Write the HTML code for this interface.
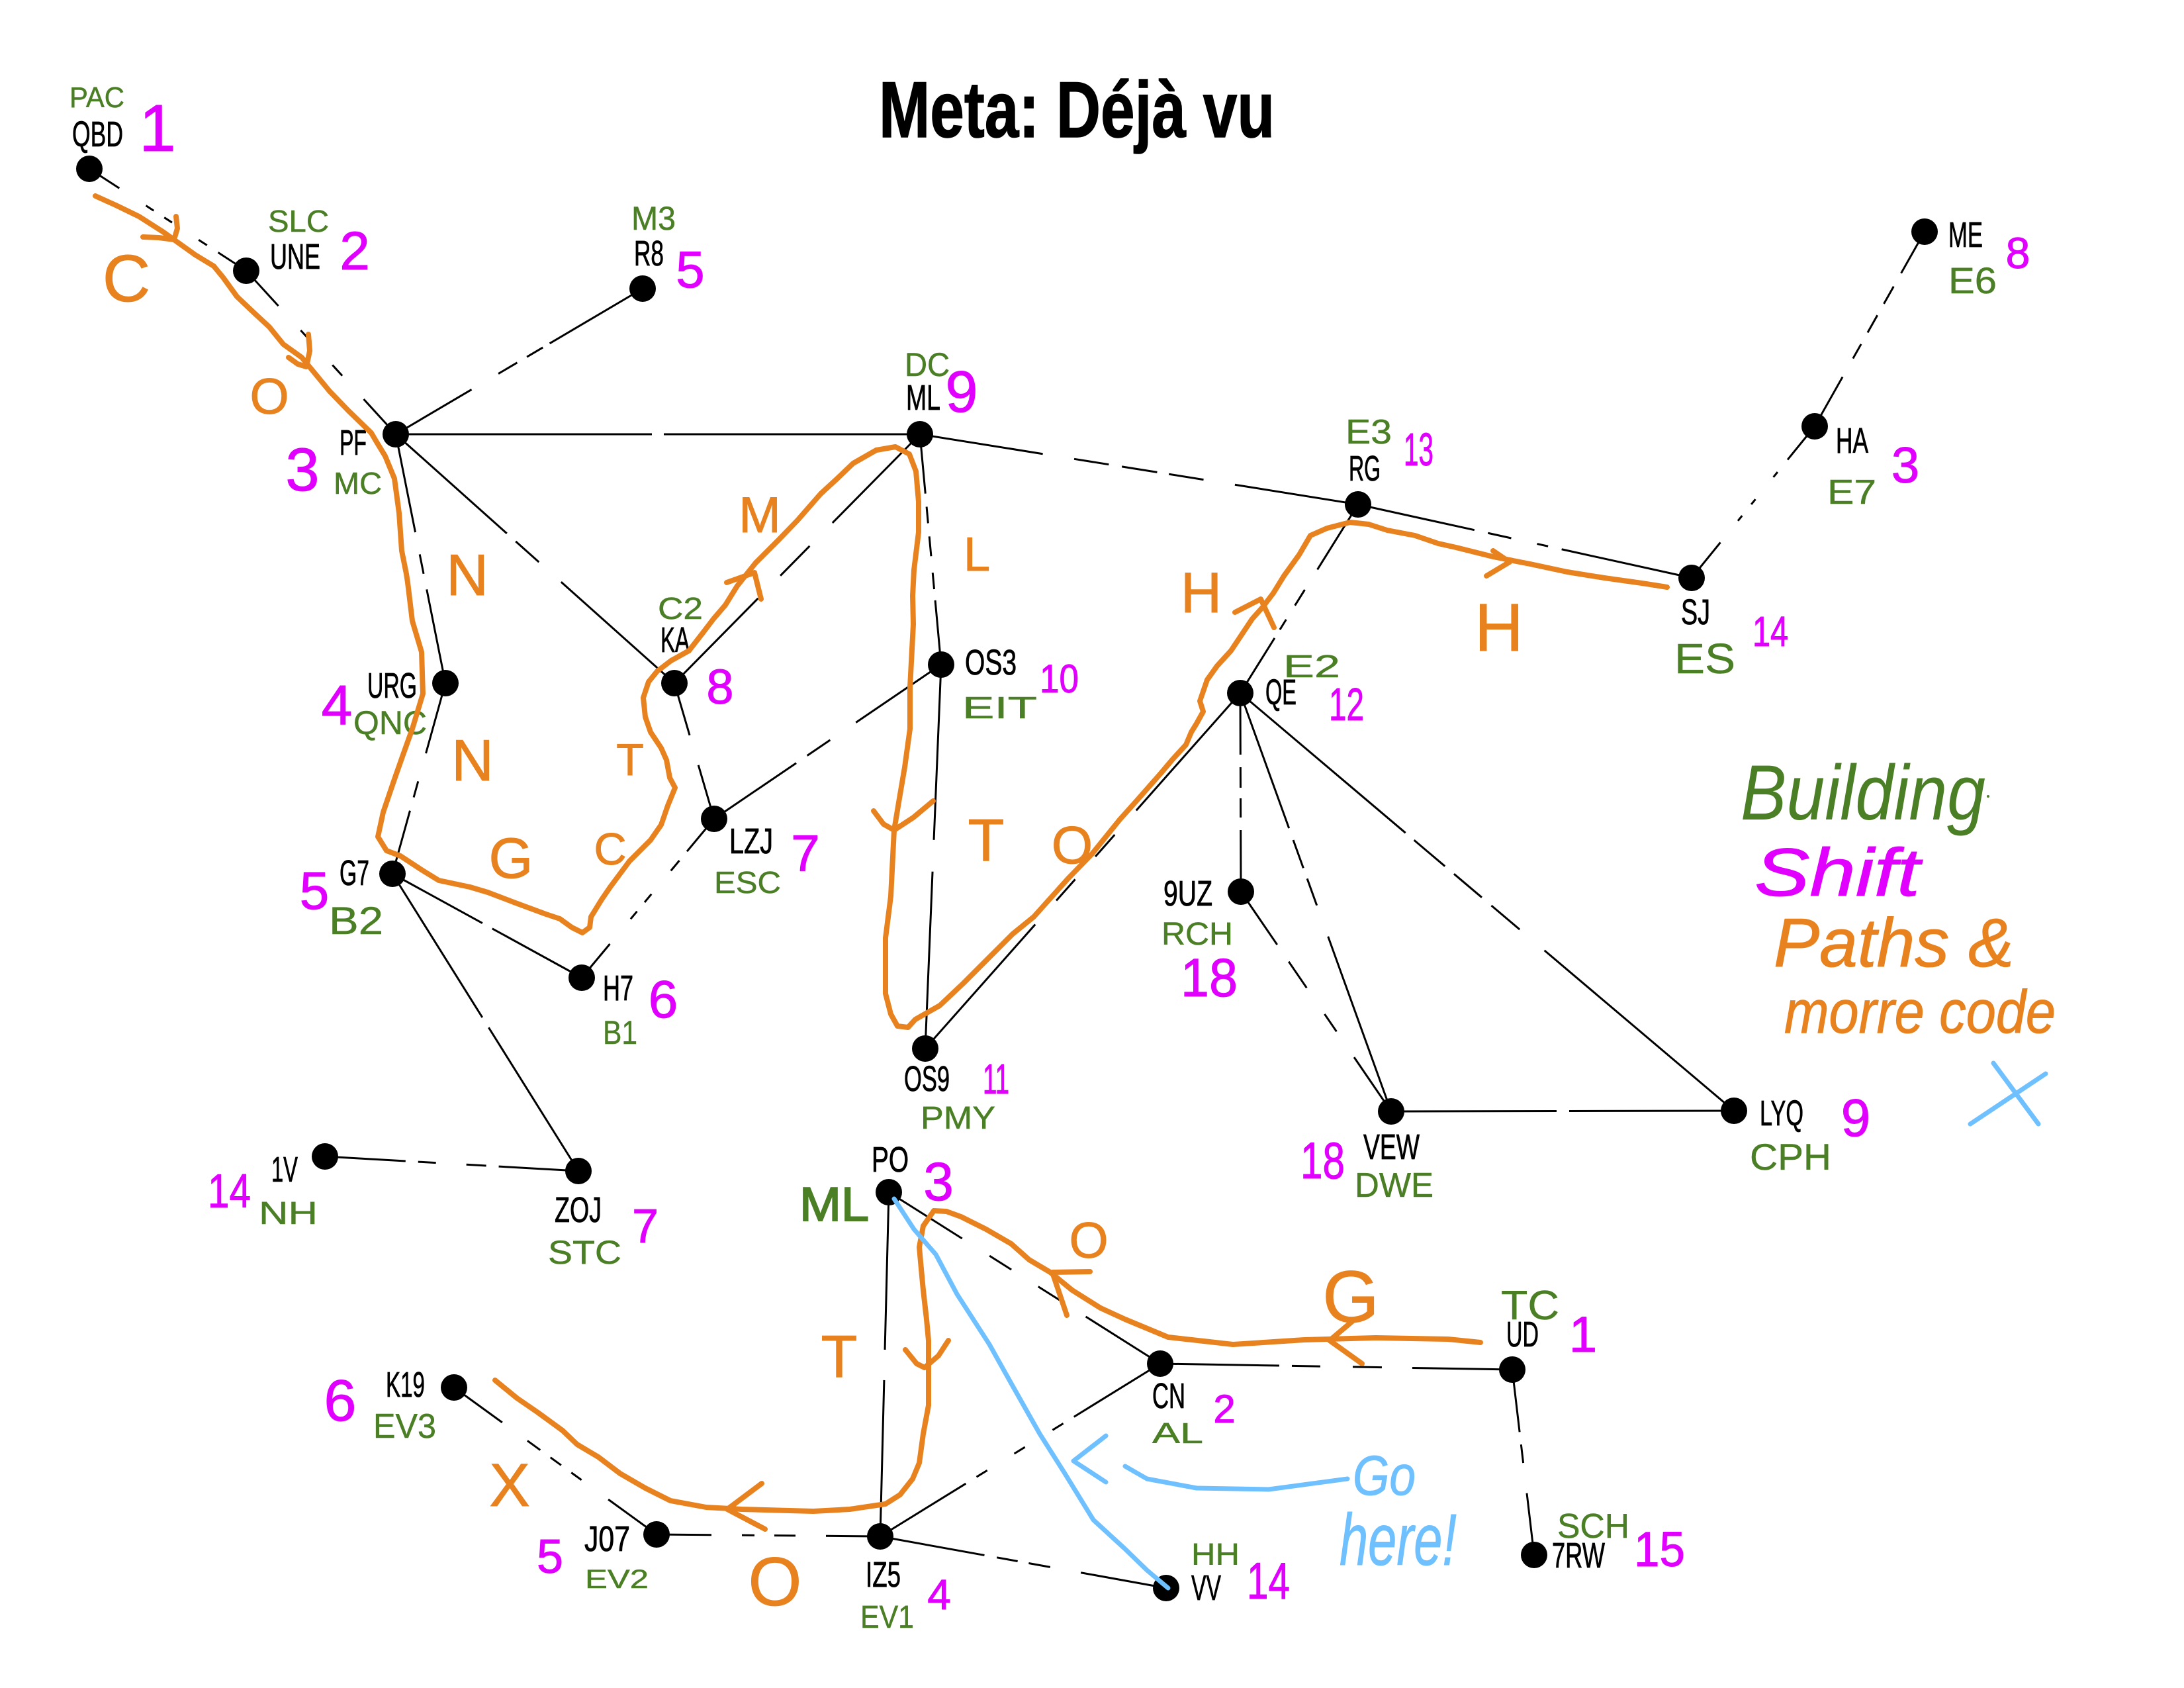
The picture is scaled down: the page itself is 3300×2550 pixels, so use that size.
<!DOCTYPE html>
<html>
<head>
<meta charset="utf-8">
<style>
html,body{margin:0;padding:0;background:#fff;}
svg{display:block;}
.lbl{font-family:"Liberation Sans Narrow","Liberation Sans",sans-serif;font-size:54px;fill:#000;stroke:#000;stroke-width:0.8;}
.ttl{font-family:"Liberation Sans Narrow","Liberation Sans",sans-serif;font-size:120px;font-weight:bold;fill:#000;stroke:#000;stroke-width:1.5;}
.g{font-family:"Liberation Sans",sans-serif;fill:#4b7f25;stroke:#4b7f25;stroke-width:0.5;}
.m{font-family:"Liberation Sans",sans-serif;fill:#e100ff;stroke:#e100ff;stroke-width:1;}
.o{font-family:"Liberation Sans",sans-serif;fill:#e8821e;stroke:#e8821e;stroke-width:1;}
.b{font-family:"Liberation Sans",sans-serif;fill:#6ec0ff;stroke:#6ec0ff;stroke-width:1;}
</style>
</head>
<body>
<svg width="3300" height="2550" viewBox="0 0 3300 2550" xmlns="http://www.w3.org/2000/svg">
<rect x="0" y="0" width="3300" height="2550" fill="#fff"/>

<!-- Title -->
<text class="ttl" x="1328" y="207" textLength="598" lengthAdjust="spacingAndGlyphs">Meta: Déjà vu</text>

<!-- Edges -->
<g stroke="#000" stroke-width="3" fill="none">
<line x1="135" y1="255" x2="372" y2="409" stroke-dasharray="54 48 14 19 14 48 15 20 100"/>
<line x1="372" y1="409" x2="598" y2="656" stroke-dasharray="72 50 23 48 22 48 100"/>
<line x1="598" y1="656" x2="971" y2="436" stroke-dasharray="133 47 33 17 28 12 200"/>
<line x1="598" y1="656" x2="1390" y2="656" stroke-dasharray="387 18 400"/>
<line x1="598" y1="656" x2="1019" y2="1032" stroke-dasharray="225 18 47 45 300"/>
<line x1="598" y1="656" x2="673" y2="1032" stroke-dasharray="151 34 30 24 200"/>
<line x1="673" y1="1032" x2="593" y2="1320" stroke-dasharray="110 44 25 21 150"/>
<line x1="593" y1="1320" x2="879" y2="1477" stroke-dasharray="155 17 200"/>
<line x1="593" y1="1320" x2="874" y2="1769" stroke-dasharray="256 18 300"/>
<line x1="491" y1="1747" x2="874" y2="1769" stroke-dasharray="122 19 27 46 30 19 200"/>
<line x1="1019" y1="1032" x2="1390" y2="656" stroke-dasharray="180 48 63 49 250"/>
<line x1="1019" y1="1032" x2="1079" y2="1237" stroke-dasharray="82 47 120"/>
<line x1="1079" y1="1237" x2="879" y2="1477" stroke-dasharray="64 18 20 46 16 18 15 49 100"/>
<line x1="1079" y1="1237" x2="1422" y2="1004" stroke-dasharray="150 20 42 47 200"/>
<line x1="1390" y1="656" x2="1422" y2="1004" stroke-dasharray="90 20 25 20 30 25 25 17 150"/>
<line x1="1390" y1="656" x2="2052" y2="762" stroke-dasharray="188 48 53 20 54 18 53 48 250"/>
<line x1="2052" y1="762" x2="2556" y2="873" stroke-dasharray="180 21 36 40 17 21 250"/>
<line x1="1874" y1="1047" x2="2052" y2="762" stroke-dasharray="98 15 18 25 28 36 200"/>
<line x1="2908" y1="350" x2="2742" y2="644" stroke-dasharray="72 23 30 20 30 20 25 32 150"/>
<line x1="2742" y1="644" x2="2556" y2="873" stroke-dasharray="65 24 10 43 10 22 10 42 150"/>
<line x1="1874" y1="1047" x2="1398" y2="1584" stroke-dasharray="237 49 44 46 43 48 300"/>
<line x1="1874" y1="1047" x2="1875" y2="1347" stroke-dasharray="93 19 31 16 29 19 150"/>
<line x1="1874" y1="1047" x2="2102" y2="1679" stroke-dasharray="217 19 45 17 43 50 350"/>
<line x1="1874" y1="1047" x2="2620" y2="1678" stroke-dasharray="327 17 61 18 55 19 56 49 450"/>
<line x1="1875" y1="1347" x2="2102" y2="1679" stroke-dasharray="97 31 48 48 32 47 150"/>
<line x1="2102" y1="1679" x2="2620" y2="1678" stroke-dasharray="250 19 300"/>
<line x1="1422" y1="1004" x2="1398" y2="1584" stroke-dasharray="265 48 300"/>
<line x1="686" y1="2096" x2="992" y2="2318" stroke-dasharray="90 47 24 19 20 19 19 50 150"/>
<line x1="992" y1="2318" x2="1330" y2="2321" stroke-dasharray="83 46 19 30 32 46 120"/>
<line x1="1343" y1="1801" x2="1330" y2="2321" stroke-dasharray="238 46 300"/>
<line x1="1343" y1="1801" x2="1753" y2="2060" stroke-dasharray="131 49 39 48 38 47 200"/>
<line x1="1330" y1="2321" x2="1753" y2="2060" stroke-dasharray="152 19 19 48 19 49 19 19 200"/>
<line x1="1330" y1="2321" x2="1762" y2="2399" stroke-dasharray="160 19 32 17 33 47 200"/>
<line x1="1753" y1="2060" x2="2285" y2="2069" stroke-dasharray="180 19 43 49 44 46 200"/>
<line x1="2285" y1="2069" x2="2318" y2="2349" stroke-dasharray="95 19 28 46 150"/>
</g>

<!-- Nodes -->
<g fill="#000">
<circle cx="135" cy="255" r="20"/>
<circle cx="372" cy="409" r="20"/>
<circle cx="598" cy="656" r="20"/>
<circle cx="971" cy="436" r="20"/>
<circle cx="1390" cy="656" r="20"/>
<circle cx="2052" cy="762" r="20"/>
<circle cx="2908" cy="350" r="20"/>
<circle cx="2742" cy="644" r="20"/>
<circle cx="2556" cy="873" r="20"/>
<circle cx="673" cy="1032" r="20"/>
<circle cx="593" cy="1320" r="20"/>
<circle cx="1019" cy="1032" r="20"/>
<circle cx="1079" cy="1237" r="20"/>
<circle cx="1422" cy="1004" r="20"/>
<circle cx="879" cy="1477" r="20"/>
<circle cx="1398" cy="1584" r="20"/>
<circle cx="1874" cy="1047" r="20"/>
<circle cx="1875" cy="1347" r="20"/>
<circle cx="2102" cy="1679" r="20"/>
<circle cx="2620" cy="1678" r="20"/>
<circle cx="491" cy="1747" r="20"/>
<circle cx="874" cy="1769" r="20"/>
<circle cx="686" cy="2096" r="20"/>
<circle cx="1343" cy="1801" r="20"/>
<circle cx="992" cy="2318" r="20"/>
<circle cx="1330" cy="2321" r="20"/>
<circle cx="1753" cy="2060" r="20"/>
<circle cx="2285" cy="2069" r="20"/>
<circle cx="2318" cy="2349" r="20"/>
<circle cx="1762" cy="2399" r="20"/>
</g>

<!-- Node labels -->
<g>
<text class="lbl" x="109" y="221" textLength="77" lengthAdjust="spacingAndGlyphs">QBD</text>
<text class="lbl" x="408" y="406" textLength="76" lengthAdjust="spacingAndGlyphs">UNE</text>
<text class="lbl" x="958" y="401" textLength="45" lengthAdjust="spacingAndGlyphs">R8</text>
<text class="lbl" x="513" y="687" textLength="41" lengthAdjust="spacingAndGlyphs">PF</text>
<text class="lbl" x="1369" y="619" textLength="52" lengthAdjust="spacingAndGlyphs">ML</text>
<text class="lbl" x="2038" y="726" textLength="48" lengthAdjust="spacingAndGlyphs">RG</text>
<text class="lbl" x="2944" y="373" textLength="52" lengthAdjust="spacingAndGlyphs">ME</text>
<text class="lbl" x="2774" y="684" textLength="49" lengthAdjust="spacingAndGlyphs">HA</text>
<text class="lbl" x="555" y="1054" textLength="75" lengthAdjust="spacingAndGlyphs">URG</text>
<text class="lbl" x="513" y="1337" textLength="45" lengthAdjust="spacingAndGlyphs">G7</text>
<text class="lbl" x="998" y="985" textLength="44" lengthAdjust="spacingAndGlyphs">KA</text>
<text class="lbl" x="1458" y="1019" textLength="78" lengthAdjust="spacingAndGlyphs">OS3</text>
<text class="lbl" x="1102" y="1289" textLength="66" lengthAdjust="spacingAndGlyphs">LZJ</text>
<text class="lbl" x="911" y="1511" textLength="46" lengthAdjust="spacingAndGlyphs">H7</text>
<text class="lbl" x="1366" y="1648" textLength="69" lengthAdjust="spacingAndGlyphs">OS9</text>
<text class="lbl" x="1912" y="1064" textLength="47" lengthAdjust="spacingAndGlyphs">QE</text>
<text class="lbl" x="1758" y="1368" textLength="74" lengthAdjust="spacingAndGlyphs">9UZ</text>
<text class="lbl" x="2540" y="943" textLength="44" lengthAdjust="spacingAndGlyphs">SJ</text>
<text class="lbl" x="2659" y="1700" textLength="66" lengthAdjust="spacingAndGlyphs">LYQ</text>
<text class="lbl" x="410" y="1785" textLength="40" lengthAdjust="spacingAndGlyphs">1V</text>
<text class="lbl" x="583" y="2110" textLength="59" lengthAdjust="spacingAndGlyphs">K19</text>
<text class="lbl" x="838" y="1846" textLength="71" lengthAdjust="spacingAndGlyphs">ZOJ</text>
<text class="lbl" x="1317" y="1770" textLength="56" lengthAdjust="spacingAndGlyphs">PO</text>
<text class="lbl" x="883" y="2343" textLength="69" lengthAdjust="spacingAndGlyphs">J07</text>
<text class="lbl" x="1308" y="2397" textLength="53" lengthAdjust="spacingAndGlyphs">IZ5</text>
<text class="lbl" x="2060" y="1751" textLength="85" lengthAdjust="spacingAndGlyphs">VEW</text>
<text class="lbl" x="1741" y="2127" textLength="50" lengthAdjust="spacingAndGlyphs">CN</text>
<text class="lbl" x="2276" y="2034" textLength="49" lengthAdjust="spacingAndGlyphs">UD</text>
<text class="lbl" x="2345" y="2368" textLength="80" lengthAdjust="spacingAndGlyphs">7RW</text>
<text class="lbl" x="1800" y="2417" textLength="45" lengthAdjust="spacingAndGlyphs">VV</text>
</g>

<!-- Green annotations -->
<g>
<text class="g" x="105" y="162" font-size="44" textLength="83" lengthAdjust="spacingAndGlyphs">PAC</text>
<text class="g" x="405" y="350" font-size="46" textLength="92" lengthAdjust="spacingAndGlyphs">SLC</text>
<text class="g" x="954" y="347" font-size="50" textLength="67" lengthAdjust="spacingAndGlyphs">M3</text>
<text class="g" x="504" y="746" font-size="46" textLength="73" lengthAdjust="spacingAndGlyphs">MC</text>
<text class="g" x="1367" y="568" font-size="50" textLength="68" lengthAdjust="spacingAndGlyphs">DC</text>
<text class="g" x="2033" y="670" font-size="52" textLength="70" lengthAdjust="spacingAndGlyphs">E3</text>
<text class="g" x="2944" y="443" font-size="56" textLength="73" lengthAdjust="spacingAndGlyphs">E6</text>
<text class="g" x="2761" y="761" font-size="52" textLength="74" lengthAdjust="spacingAndGlyphs">E7</text>
<text class="g" x="534" y="1109" font-size="50" textLength="111" lengthAdjust="spacingAndGlyphs">QNC</text>
<text class="g" x="497" y="1411" font-size="58" textLength="82" lengthAdjust="spacingAndGlyphs">B2</text>
<text class="g" x="994" y="935" font-size="46" textLength="68" lengthAdjust="spacingAndGlyphs">C2</text>
<text class="g" x="1454" y="1085" font-size="46" textLength="113" lengthAdjust="spacingAndGlyphs">EIT</text>
<text class="g" x="1079" y="1349" font-size="46" textLength="101" lengthAdjust="spacingAndGlyphs">ESC</text>
<text class="g" x="911" y="1577" font-size="50" textLength="52" lengthAdjust="spacingAndGlyphs">B1</text>
<text class="g" x="1391" y="1705" font-size="48" textLength="113" lengthAdjust="spacingAndGlyphs">PMY</text>
<text class="g" x="1939" y="1023" font-size="48" textLength="86" lengthAdjust="spacingAndGlyphs">E2</text>
<text class="g" x="1755" y="1427" font-size="48" textLength="108" lengthAdjust="spacingAndGlyphs">RCH</text>
<text class="g" x="2530" y="1017" font-size="64" textLength="92" lengthAdjust="spacingAndGlyphs">ES</text>
<text class="g" x="2644" y="1767" font-size="56" textLength="123" lengthAdjust="spacingAndGlyphs">CPH</text>
<text class="g" x="391" y="1849" font-size="48" textLength="89" lengthAdjust="spacingAndGlyphs">NH</text>
<text class="g" x="564" y="2172" font-size="52" textLength="95" lengthAdjust="spacingAndGlyphs">EV3</text>
<text class="g" x="828" y="1909" font-size="50" textLength="111" lengthAdjust="spacingAndGlyphs">STC</text>
<text class="g" x="1208" y="1844" font-size="72" textLength="105" lengthAdjust="spacingAndGlyphs" style="stroke-width:2">ML</text>
<text class="g" x="884" y="2399" font-size="40" textLength="96" lengthAdjust="spacingAndGlyphs">EV2</text>
<text class="g" x="1300" y="2459" font-size="48" textLength="81" lengthAdjust="spacingAndGlyphs">EV1</text>
<text class="g" x="2047" y="1808" font-size="52" textLength="119" lengthAdjust="spacingAndGlyphs">DWE</text>
<text class="g" x="1741" y="2180" font-size="44" textLength="77" lengthAdjust="spacingAndGlyphs">AL</text>
<text class="g" x="2268" y="1993" font-size="62" textLength="88" lengthAdjust="spacingAndGlyphs">TC</text>
<text class="g" x="2353" y="2323" font-size="52" textLength="109" lengthAdjust="spacingAndGlyphs">SCH</text>
<text class="g" x="1800" y="2364" font-size="46" textLength="73" lengthAdjust="spacingAndGlyphs">HH</text>
<text class="g" x="2630" y="1238" font-size="118" textLength="370" lengthAdjust="spacingAndGlyphs" style="stroke-width:0;font-style:italic">Building</text>
<circle cx="3004" cy="1203" r="2" fill="#4b7f25"/>
</g>

<!-- Magenta numbers -->
<g>
<text class="m" x="238" y="228" font-size="100" text-anchor="middle">1</text>
<text class="m" x="536" y="407" font-size="82" text-anchor="middle">2</text>
<text class="m" x="1043" y="434" font-size="78" text-anchor="middle">5</text>
<text class="m" x="457" y="741" font-size="92" text-anchor="middle">3</text>
<text class="m" x="1453" y="622" font-size="88" text-anchor="middle">9</text>
<text class="m" x="2121" y="703" font-size="70" textLength="45" lengthAdjust="spacingAndGlyphs">13</text>
<text class="m" x="3049" y="405" font-size="66" text-anchor="middle">8</text>
<text class="m" x="2879" y="729" font-size="76" text-anchor="middle">3</text>
<text class="m" x="509" y="1094" font-size="84" text-anchor="middle">4</text>
<text class="m" x="475" y="1373" font-size="80" text-anchor="middle">5</text>
<text class="m" x="1088" y="1063" font-size="74" text-anchor="middle">8</text>
<text class="m" x="1571" y="1046" font-size="60" textLength="59" lengthAdjust="spacingAndGlyphs">10</text>
<text class="m" x="1217" y="1316" font-size="78" text-anchor="middle">7</text>
<text class="m" x="1002" y="1537" font-size="80" text-anchor="middle">6</text>
<text class="m" x="1485" y="1652" font-size="64" textLength="40" lengthAdjust="spacingAndGlyphs">11</text>
<text class="m" x="2008" y="1088" font-size="70" textLength="53" lengthAdjust="spacingAndGlyphs">12</text>
<text class="m" x="1784" y="1505" font-size="82" textLength="86" lengthAdjust="spacingAndGlyphs">18</text>
<text class="m" x="2648" y="976" font-size="64" textLength="54" lengthAdjust="spacingAndGlyphs">14</text>
<text class="m" x="2804" y="1716" font-size="80" text-anchor="middle">9</text>
<text class="m" x="314" y="1824" font-size="72" textLength="65" lengthAdjust="spacingAndGlyphs">14</text>
<text class="m" x="514" y="2146" font-size="88" text-anchor="middle">6</text>
<text class="m" x="975" y="1877" font-size="72" text-anchor="middle">7</text>
<text class="m" x="1418" y="1813" font-size="82" text-anchor="middle">3</text>
<text class="m" x="831" y="2376" font-size="72" text-anchor="middle">5</text>
<text class="m" x="1419" y="2431" font-size="64" text-anchor="middle">4</text>
<text class="m" x="1965" y="1780" font-size="78" textLength="67" lengthAdjust="spacingAndGlyphs">18</text>
<text class="m" x="1850" y="2149" font-size="60" text-anchor="middle">2</text>
<text class="m" x="2392" y="2042" font-size="76" text-anchor="middle">1</text>
<text class="m" x="2469" y="2366" font-size="74" textLength="77" lengthAdjust="spacingAndGlyphs">15</text>
<text class="m" x="1884" y="2415" font-size="78" textLength="65" lengthAdjust="spacingAndGlyphs">14</text>
<text class="m" x="2651" y="1353" font-size="102" textLength="250" lengthAdjust="spacingAndGlyphs" style="font-style:italic">Shift</text>
</g>

<!-- Orange path strokes -->
<g fill="none" stroke="#e8821e" stroke-width="8" stroke-linecap="round" stroke-linejoin="round">
<polyline points="144,296 175,310 210,327 246,350 267,365 295,385 323,402 337,419 358,448 379,468 407,494 428,520 456,540 470,557 498,591 526,620 561,654 568,666 582,689 596,723 603,775 607,832 614,867 616,880 623,938 637,985 639,1048 623,1101 608,1143 595,1180 579,1227 571,1264 584,1285 605,1293 637,1314 663,1330 710,1340 737,1348 779,1364 825,1381 846,1388 864,1401 880,1409 891,1401 893,1385 909,1359 922,1340 951,1301 983,1269 999,1246 1009,1217 1020,1190 1012,1175 1007,1148 999,1130 983,1106 975,1083 972,1054 980,1030 993,1014 1014,998 1041,983 1062,956 1078,935 1096,914 1114,885 1142,850 1177,815 1205,786 1240,746 1265,723 1289,700 1324,680 1353,675 1374,686 1384,712 1388,758 1388,804 1381,861 1379,900 1380,943 1375,1038 1375,1101 1367,1159 1359,1206 1351,1254 1346,1354 1338,1417 1338,1501 1346,1532 1356,1550 1372,1552 1383,1540 1420,1519 1456,1485 1488,1453 1530,1411 1562,1385 1588,1356 1614,1327 1650,1290 1671,1264 1692,1238 1718,1209 1755,1167 1771,1148 1792,1125 1800,1106 1808,1093 1818,1075 1813,1059 1824,1027 1839,1006 1860,983 1876,959 1892,935 1908,917 1924,896 1940,870 1963,838 1980,809 2005,798 2040,789 2068,792 2096,801 2138,809 2173,821 2200,827 2256,841 2312,852 2368,864 2424,873 2481,881 2519,887"/>
<polyline points="2237,2028 2188,2023 2079,2021 1971,2024 1863,2031 1765,2020 1700,1993 1663,1976 1620,1949 1587,1922 1555,1903 1528,1879 1490,1857 1452,1838 1430,1830 1411,1829 1395,1852 1389,1884 1392,1917 1395,1949 1400,1993 1403,2025 1403,2123 1395,2166 1389,2210 1379,2234 1360,2258 1338,2272 1284,2280 1229,2283 1121,2280 1067,2277 1013,2267 975,2248 937,2226 904,2201 872,2182 850,2161 813,2134 781,2112 748,2085"/>
<!-- arrows -->
<polyline points="216,358 240,359 263,362 268,345 266,327"/>
<polyline points="436,540 450,550 463,554 468,530 466,505"/>
<polyline points="1098,880 1140,865 1150,905"/>
<polyline points="1320,1225 1335,1245 1351,1254 1380,1235 1410,1210"/>
<polyline points="1866,925 1905,905 1925,948"/>
<polyline points="2256,832 2281,849 2246,870"/>
<polyline points="1647,1921 1590,1922 1612,1987"/>
<polyline points="2047,1993 2009,2025 2058,2060"/>
<polyline points="1151,2241 1099,2280 1156,2310"/>
<polyline points="1368,2039 1385,2060 1397,2066 1418,2048 1433,2025"/>
</g>

<!-- Orange letters -->
<g>
<text class="o" x="191" y="455" font-size="100" text-anchor="middle">C</text>
<text class="o" x="407" y="625" font-size="76" text-anchor="middle">O</text>
<text class="o" x="706" y="899" font-size="88" text-anchor="middle">N</text>
<text class="o" x="714" y="1179" font-size="88" text-anchor="middle">N</text>
<text class="o" x="772" y="1326" font-size="86" text-anchor="middle">G</text>
<text class="o" x="922" y="1306" font-size="68" text-anchor="middle">C</text>
<text class="o" x="952" y="1171" font-size="68" text-anchor="middle">T</text>
<text class="o" x="1148" y="804" font-size="76" text-anchor="middle">M</text>
<text class="o" x="1476" y="862" font-size="72" text-anchor="middle">L</text>
<text class="o" x="1490" y="1300" font-size="90" text-anchor="middle">T</text>
<text class="o" x="1620" y="1304" font-size="80" text-anchor="middle">O</text>
<text class="o" x="1815" y="925" font-size="86" text-anchor="middle">H</text>
<text class="o" x="2265" y="983" font-size="102" text-anchor="middle">H</text>
<text class="o" x="1645" y="1900" font-size="76" text-anchor="middle">O</text>
<text class="o" x="2041" y="1997" font-size="110" text-anchor="middle">G</text>
<text class="o" x="1268" y="2080" font-size="90" text-anchor="middle">T</text>
<text class="o" x="770" y="2275" font-size="92" text-anchor="middle">X</text>
<text class="o" x="1171" y="2425" font-size="104" text-anchor="middle">O</text>
<text class="o" x="2680" y="1460" font-size="104" textLength="363" lengthAdjust="spacingAndGlyphs" style="font-style:italic">Paths &amp;</text>
<text class="o" x="2696" y="1560" font-size="92" textLength="410" lengthAdjust="spacingAndGlyphs" style="font-style:italic">morre code</text>
</g>

<!-- Blue -->
<g fill="none" stroke="#6ec0ff" stroke-width="7" stroke-linecap="round" stroke-linejoin="round">
<polyline points="1351,1811 1381,1857 1414,1895 1446,1955 1495,2031 1528,2090 1571,2166 1609,2226 1652,2296 1700,2340 1733,2372 1765,2399"/>
<polyline points="1700,2215 1733,2234 1808,2248 1917,2250 2036,2234"/>
<polyline points="1671,2169 1622,2207 1671,2239"/>
<line x1="3012" y1="1606" x2="3080" y2="1698"/>
<line x1="3091" y1="1622" x2="2977" y2="1698"/>
</g>
<text class="b" x="2044" y="2258" font-size="84" textLength="95" lengthAdjust="spacingAndGlyphs" style="font-style:italic">Go</text>
<text class="b" x="2024" y="2364" font-size="110" textLength="177" lengthAdjust="spacingAndGlyphs" style="font-style:italic">here!</text>
</svg>
</body>
</html>
